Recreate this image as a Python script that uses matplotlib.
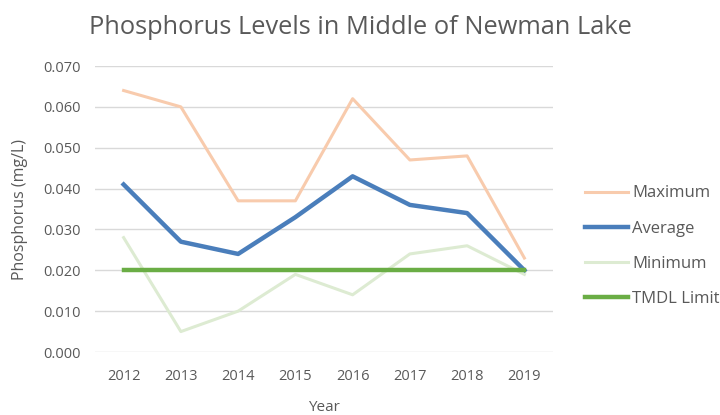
import matplotlib
matplotlib.use("Agg")
import matplotlib.pyplot as plt
from matplotlib.ticker import FormatStrFormatter

years = ["2012", "2013", "2014", "2015", "2016", "2017", "2018", "2019"]
maximum = [0.064, 0.060, 0.037, 0.037, 0.062, 0.047, 0.048, 0.023]
average = [0.041, 0.027, 0.024, 0.033, 0.043, 0.036, 0.034, 0.020]
minimum = [0.028, 0.005, 0.010, 0.019, 0.014, 0.024, 0.026, 0.019]
tmdl = [0.020] * 8

plt.rcParams['font.family'] = ['Open Sans', 'DejaVu Sans']
fig = plt.figure(figsize=(7.2, 4.15), dpi=100)
ax = fig.add_axes([95/720, 1 - 352/415, (553-95)/720, (352-66)/415])

x = list(range(len(years)))
ax.plot(x, maximum, color='#F8CBAD', lw=2.2, label='Maximum', solid_joinstyle='round')
ax.plot(x, average, color='#4A7EBB', lw=3.2, label='Average', solid_joinstyle='round')
ax.plot(x, minimum, color='#DDEBD2', lw=2.2, label='Minimum', solid_joinstyle='round')
ax.plot(x, tmdl, color='#6AAD45', lw=3.2, label='TMDL Limit')

ax.set_xlim(-0.5, len(years) - 0.5)
ax.set_ylim(0, 0.070)
ax.set_yticks([i * 0.01 for i in range(8)])
ax.yaxis.set_major_formatter(FormatStrFormatter('%.3f'))
ax.set_xticks(x)
ax.set_xticklabels(years)
ax.grid(axis='y', color='#D9D9D9', lw=1)
ax.set_axisbelow(True)
for s in ax.spines.values():
    s.set_visible(False)
ax.tick_params(axis='y', length=0, colors='#595959', labelsize=10.5, pad=10)
ax.tick_params(axis='x', length=0, colors='#595959', labelsize=10.5, pad=12)
ax.set_ylabel('Phosphorus (mg/L)', color='#595959', fontsize=11.5, labelpad=11)
ax.set_xlabel('Year', color='#595959', fontsize=11, labelpad=12)

fig.text(0.5, 1 - 28/415, 'Phosphorus Levels in Middle of Newman Lake',
         ha='center', va='center', color='#595959', fontsize=18.3)

leg = ax.legend(loc='center left', bbox_to_anchor=(1.055, 0.37), frameon=False,
                borderaxespad=0, fontsize=12, labelspacing=1.15, handlelength=2.6,
                handletextpad=0.25)
for t in leg.get_texts():
    t.set_color('#595959')

fig.savefig('out.png', dpi=100)
